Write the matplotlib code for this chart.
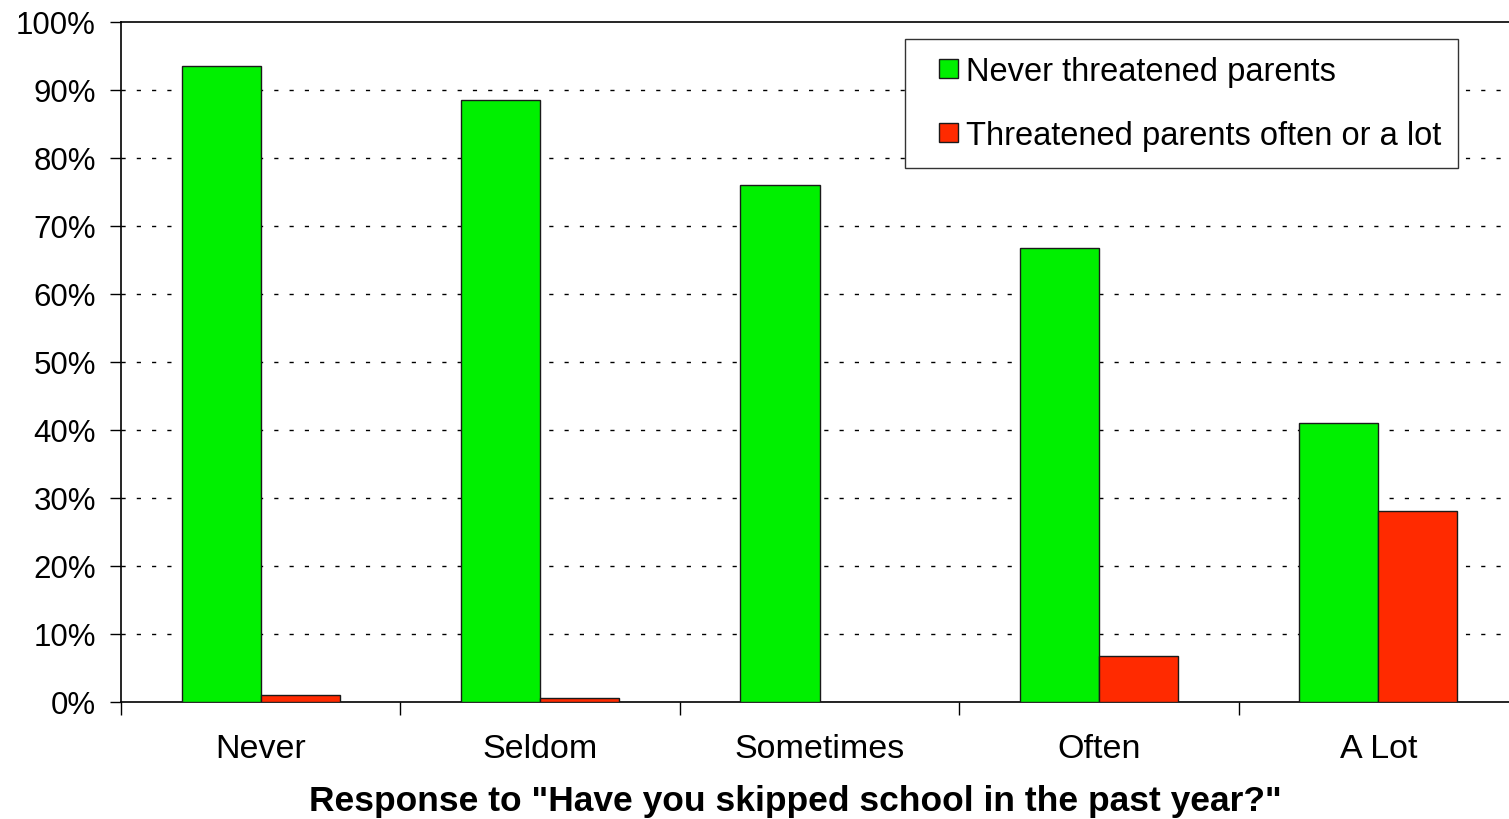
import numpy as np
import matplotlib.pyplot as plt
from matplotlib.ticker import FixedLocator
from matplotlib.patches import Rectangle
from matplotlib.container import BarContainer
from matplotlib.legend_handler import HandlerPatch

categories = ['Never', 'Seldom', 'Sometimes', 'Often', 'A Lot']
never_threatened = [93.5, 88.5, 76.0, 66.8, 41.0]
threatened_often = [1.0, 0.6, 0.0, 6.8, 28.1]
series_names = ['Never threatened parents', 'Threatened parents often or a lot']

plt.rcParams['font.family'] = ['Liberation Sans', 'DejaVu Sans']

fig = plt.figure(figsize=(15.09, 8.2), dpi=100)
ax = fig.add_axes([121/1509, 1-703/820, 1397/1509, 680/820])

x = np.arange(len(categories))
w = 0.283
ax.bar(x - w/2, never_threatened, w, color='#00f000', edgecolor='#1a1a1a', linewidth=1,
       label=series_names[0], zorder=3)
ax.bar(x + w/2, threatened_often, w, color='#ff2a00', edgecolor='#1a1a1a', linewidth=1,
       label=series_names[1], zorder=3)

ax.set_xlim(-0.5, len(categories) - 0.5)
ax.set_ylim(0, 100)

ax.set_yticks(np.arange(0, 101, 10))
ax.set_yticklabels([f'{v}%' for v in range(0, 101, 10)], fontsize=22.5)
ax.tick_params(axis='y', length=8, width=1, pad=10, direction='out')

ax.set_xticks(x)
ax.set_xticklabels(categories, fontsize=24.5)
ax.tick_params(axis='x', which='major', length=0, pad=22)
ax.xaxis.set_minor_locator(FixedLocator(np.arange(-0.5, len(categories), 1)))
ax.tick_params(axis='x', which='minor', length=9, width=1, direction='out')

for y in range(10, 100, 10):
    ax.axhline(y, color='black', linewidth=1, linestyle=(0, (3, 8)), zorder=1)

ax.spines['right'].set_visible(False)
ax.spines['top'].set_linewidth(1.2)
ax.spines['left'].set_linewidth(1.2)
ax.spines['bottom'].set_linewidth(1.2)

ax.set_xlabel('Response to "Have you skipped school in the past year?"',
              fontsize=25.5, fontweight='bold')
ax.xaxis.set_label_coords((795 - 121) / 1397, -(785 - 703) / 680)


# small square legend keys sitting at the right of the handle box
def square_key(legend, orig_handle, xdescent, ydescent, width, height, fontsize):
    s = 0.58 * fontsize
    return Rectangle((width - s - xdescent, -ydescent + (height - s) / 2), s, s)


def from_first_bar(handle, orig):
    handle.update_from(orig.patches[0])


leg = ax.legend(loc='upper left', bbox_to_anchor=(905/1509, 1 - 40/820),
                bbox_transform=fig.transFigure, fontsize=23.5, frameon=True, fancybox=False,
                edgecolor='#333333', framealpha=1, handlelength=1.1, handleheight=0.7,
                handletextpad=0.25, labelspacing=1.02, borderpad=0.52, borderaxespad=0,
                handler_map={BarContainer: HandlerPatch(patch_func=square_key,
                                                        update_func=from_first_bar)})
leg.get_frame().set_linewidth(1)

fig.savefig('out.png', dpi=100)
